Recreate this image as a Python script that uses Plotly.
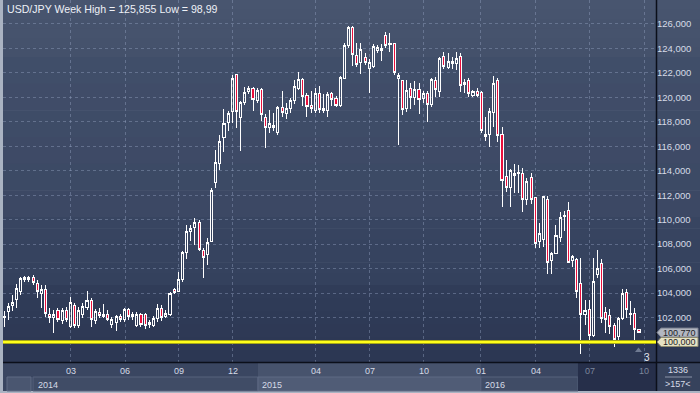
import plotly.graph_objects as go

# ---------------- data ----------------
opens = [102.0, 102.48, 103.0, 103.44, 104.12, 105.08, 105.08, 105.3, 104.81, 103.99,
         104.26, 102.27, 101.99, 102.57, 101.72, 102.57, 101.25, 102.98, 101.31, 102.27,
         102.84, 103.36, 101.72, 102.43, 102.1, 102.27, 101.45, 101.61, 102.07, 101.8,
         102.67, 102.05, 101.39, 102.21, 102.21, 101.45, 101.39, 101.94, 102.7, 102.07,
         102.27, 104.26, 104.12, 105.08, 107.32, 109.04, 109.37, 109.81, 107.48, 107.13,
         108.22, 113.0, 114.56, 116.7, 117.93, 118.88, 121.89, 118.33, 119.62, 120.47,
         120.74, 119.78, 120.66, 118.33, 117.51, 117.57, 117.16, 119.15, 118.69, 119.07,
         119.78, 120.74, 121.47, 120.16, 119.34, 118.96, 120.33, 118.96, 118.96, 120.33,
         119.89, 119.37, 121.53, 124.2, 125.7, 123.39, 122.84, 123.28, 122.38, 122.5,
         123.82, 123.82, 125.09, 124.29, 124.37, 121.55, 121.34, 119.1, 120.74, 120.03,
         120.66, 119.93, 120.3, 119.38, 121.42, 120.47, 123.38, 122.46, 122.73, 122.73,
         123.33, 121.07, 121.42, 120.19, 120.47, 120.38, 116.8, 116.98, 118.78, 121.42,
         117.0, 113.57, 112.62, 113.65, 113.76, 113.74, 111.61, 113.41, 111.8, 108.2,
         108.34, 111.61, 106.7, 107.25, 108.56, 110.25, 110.79, 106.7, 106.76, 104.8,
         102.21, 102.62, 100.57, 105.48, 106.38, 102.43, 102.15, 101.31, 100.43, 101.94,
         104.06, 102.21, 102.29, 101.0]
highs = [102.5, 103.2, 103.85, 104.73, 105.35, 105.41, 105.41, 105.44, 105.08, 104.67,
         104.67, 102.76, 102.62, 102.76, 102.81, 102.84, 103.71, 103.17, 102.89, 103.17,
         104.2, 103.58, 102.67, 102.76, 103.09, 102.62, 102.07, 102.21, 102.27, 102.81,
         102.81, 102.48, 102.43, 102.35, 102.35, 101.8, 102.16, 103.09, 103.03, 102.62,
         104.12, 104.4, 105.76, 107.48, 109.53, 109.59, 110.14, 110.0, 107.68, 108.5,
         112.6, 115.68, 116.89, 119.07, 118.88, 121.83, 121.94, 119.7, 120.84, 120.93,
         120.84, 120.79, 120.74, 118.6, 118.96, 118.74, 119.29, 120.52, 119.5, 119.92,
         121.42, 122.1, 121.61, 120.38, 120.52, 120.79, 120.93, 120.25, 120.47, 120.47,
         120.11, 121.75, 124.48, 125.855, 125.84, 124.48, 124.48, 123.66, 123.12, 124.37,
         124.29, 124.37, 125.37, 125.28, 124.48, 121.97, 121.42, 121.42, 121.15, 121.33,
         121.2, 120.55, 120.48, 121.56, 121.69, 123.33, 123.74, 123.6, 123.33, 123.74,
         123.6, 121.48, 121.56, 120.6, 120.74, 120.52, 118.37, 119.1, 121.75, 121.56,
         117.6, 114.88, 114.12, 114.55, 114.47, 114.2, 113.38, 113.84, 111.88, 109.71,
         111.94, 111.94, 107.38, 109.57, 110.65, 110.74, 111.47, 107.11, 106.84, 106.84,
         103.43, 103.43, 106.84, 107.52, 106.76, 102.84, 102.67, 101.53, 102.07, 104.31,
         104.31, 103.38, 102.76, 101.1]
lows = [101.25, 101.8, 102.5, 102.76, 103.85, 104.94, 104.94, 104.67, 103.58, 102.76,
        102.07, 101.53, 100.71, 101.61, 101.45, 101.61, 101.17, 101.17, 101.17, 101.99,
        102.62, 101.25, 101.45, 101.99, 101.94, 101.72, 101.17, 100.9, 101.66, 101.61,
        101.8, 101.8, 101.25, 101.25, 101.07, 101.17, 101.25, 101.66, 101.72, 101.94,
        102.16, 103.9, 104.07, 104.94, 106.8, 108.22, 107.95, 107.4, 105.22, 106.31,
        108.14, 112.6, 114.1, 115.52, 117.24, 117.87, 117.46, 115.6, 119.37, 120.25,
        118.88, 119.56, 118.06, 115.88, 117.05, 117.24, 116.91, 118.42, 118.2, 118.74,
        119.42, 120.6, 119.29, 118.42, 118.69, 118.74, 118.69, 118.74, 118.42, 119.29,
        119.23, 119.23, 121.47, 124.07, 122.57, 122.5, 121.91, 122.66, 120.38, 122.38,
        123.6, 123.0, 124.01, 123.74, 121.83, 116.1, 118.55, 118.83, 119.07, 119.34,
        118.65, 119.57, 118.0, 119.24, 120.0, 120.06, 122.29, 122.29, 122.29, 122.23,
        120.47, 120.38, 120.0, 120.0, 120.06, 117.06, 116.46, 115.97, 117.6, 116.38,
        111.0, 112.29, 111.06, 112.16, 112.21, 110.65, 111.2, 111.28, 107.66, 107.66,
        107.79, 105.54, 105.54, 107.2, 108.2, 109.1, 106.45, 106.16, 103.57, 98.99,
        101.39, 100.02, 100.43, 105.21, 101.53, 100.71, 100.63, 99.57, 100.02, 101.8,
        101.94, 101.39, 100.02, 100.7]
closes = [102.1, 102.89, 103.2, 104.34, 105.22, 105.27, 105.3, 104.89, 104.12, 104.32,
          102.35, 101.99, 102.27, 101.8, 102.57, 101.8, 103.25, 101.39, 102.57, 102.89,
          103.39, 101.8, 102.48, 102.16, 102.27, 101.88, 101.88, 102.07, 101.8, 102.62,
          102.07, 102.27, 102.21, 101.45, 101.31, 101.61, 101.94, 102.7, 101.99, 102.35,
          103.99, 104.04, 105.14, 107.35, 109.04, 109.32, 109.81, 107.6, 106.94, 108.17,
          112.38, 114.65, 116.37, 117.84, 118.66, 121.56, 118.83, 119.56, 120.38, 120.74,
          119.84, 120.57, 118.6, 117.57, 117.87, 117.7, 119.15, 118.8, 119.07, 119.78,
          120.88, 121.47, 120.11, 119.23, 119.07, 120.33, 119.02, 119.07, 120.25, 119.84,
          119.37, 121.61, 124.2, 125.7, 123.52, 122.7, 123.93, 122.84, 122.84, 124.15,
          124.1, 123.96, 124.2, 124.42, 122.03, 121.75, 119.03, 120.6, 120.03, 120.66,
          119.84, 120.3, 119.38, 121.48, 120.66, 123.2, 122.56, 122.92, 122.92, 123.2,
          121.0, 121.2, 120.33, 120.47, 120.19, 117.27, 117.0, 118.88, 121.15, 116.87,
          113.24, 112.62, 114.06, 113.79, 113.88, 111.61, 113.11, 111.67, 108.07, 108.83,
          111.88, 106.52, 107.2, 108.67, 110.14, 110.38, 106.52, 107.03, 104.11, 102.21,
          102.56, 100.57, 104.93, 106.03, 101.94, 101.86, 101.25, 100.22, 101.94, 103.98,
          102.67, 102.35, 101.04, 100.77]

month_ticks = [16.1, 29.2, 42.1, 55.1, 75.1, 88.1, 101.1, 114.9, 128.1, 141.1, 154.3]
month_labels = ["03", "06", "09", "12", "04", "07", "10", "01", "04", "07", "10"]
year_starts = [7.0, 61.2, 114.9]
year_labels = ["2014", "2015", "2016"]
shade_start = 138.3          # darkened (future) section of the time axis
price_ticks = list(range(102, 127, 2))
price_labels = [f"{v},000" for v in price_ticks]
ref_level = 100.0
ref_label = "100,000"
last_price = 100.77
last_label = "100,770"
title_text = "USD/JPY Week High = 125,855 Low = 98,99"
corner_top = "1336"
corner_bottom = ">157<"
marker_count = "3"

# ---------------- geometry ----------------
W, H = 700, 393
ML, MR, MT, MB = 3, 44, 0, 31
PX0, PX1 = ML, W - MR          # 3 .. 656
PY0, PY1 = MT, H - MB          # 0 .. 362
XR = [-0.24, 157.1]
YR = [98.365, 127.96]
FONT = "Liberation Sans, Arial, sans-serif"


def fx(p):  # pixel x -> paper
    return (p - PX0) / (PX1 - PX0)


def fy(p):  # pixel y -> paper
    return 1 - (p - PY0) / (PY1 - PY0)


def ix(i):  # index -> paper x
    return (i - XR[0]) / (XR[1] - XR[0])


def vy(v):  # value -> pixel y
    return PY0 + (YR[1] - v) / (YR[1] - YR[0]) * (PY1 - PY0)


def mix(c0, c1, t):
    a = [int(c0[k:k + 2], 16) for k in (1, 3, 5)]
    b = [int(c1[k:k + 2], 16) for k in (1, 3, 5)]
    return "#" + "".join(f"{round(a[k] + (b[k] - a[k]) * t):02x}" for k in range(3))


shapes = []


def rect(x0, y0, x1, y1, color, line=None, layer="below"):
    d = dict(type="rect", xref="paper", yref="paper", x0=fx(x0), x1=fx(x1),
             y0=fy(y1), y1=fy(y0), fillcolor=color, layer=layer,
             line=dict(width=0) if line is None else dict(color=line, width=1))
    shapes.append(d)


def seg(x0, y0, x1, y1, color, width=1, layer="above", dash=None):
    ln = dict(color=color, width=width)
    if dash:
        ln["dash"] = dash
    shapes.append(dict(type="line", xref="paper", yref="paper", x0=fx(x0), x1=fx(x1),
                       y0=fy(y0), y1=fy(y1), line=ln, layer=layer))


def path(pts, color, line_color=None, layer="above"):
    s = "M " + " L ".join(f"{fx(x):.5f},{fy(y):.5f}" for x, y in pts) + " Z"
    shapes.append(dict(type="path", xref="paper", yref="paper", path=s, fillcolor=color,
                       line=dict(width=0) if line_color is None else dict(color=line_color, width=1),
                       layer=layer))


# background bands (plot + right axis panel)
bands = [(0, 57, "#48556f", "#44516b"), (57, 217, "#414e69", "#3b4864"),
         (217, 285, "#384561", "#34415d"), (285, 363, "#303c58", "#2c3753")]
for y0, y1, c0, c1 in bands:
    n = 6
    for k in range(n):
        a = y0 + (y1 - y0) * k / n
        b = y0 + (y1 - y0) * (k + 1) / n
        rect(PX0, a, W, b + 0.5, mix(c0, c1, (k + 0.5) / n))

# bottom time-axis panel
rect(PX0, 363, PX1, 391, "#3a4661")
xs15 = PX0 + ix(year_starts[1]) * (PX1 - PX0)
xs16 = PX0 + ix(year_starts[2]) * (PX1 - PX0)
xs14 = PX0 + ix(year_starts[0]) * (PX1 - PX0)
xsh = PX0 + ix(shade_start) * (PX1 - PX0)
rect(xs15, 363, xs16, 391, "#47536d")
rect(xs14, 377, xs15, 391, "#404c66", line="#56627c")
rect(xs15, 377, xs16, 391, "#505c76", line="#5e6a84")
rect(xs16, 377, xsh, 391, "#404c66", line="#56627c")
rect(xsh, 363, PX1, 391, "#262f4a")
rect(7, 377, 31, 391, "#4a5670", line="#5e6a84")
rect(PX1, 363, W, 391, "#36425c")

# frame lines
seg(PX1 + 0.5, 0, PX1 + 0.5, 391, "#0b0f1a", 1.5)
seg(PX0, 362.5, W, 362.5, "#0b0f1a", 1.5)
seg(665, 377, 692, 377, "#8a93a8", 1)

# reference (yellow) line
ry = vy(ref_level)
seg(PX0, ry, PX1, ry, "#a8a818", 4)
seg(PX0, ry, PX1, ry, "#ffff1a", 2)

# price label boxes on the right axis
ly = vy(last_price)
path([(PX1 + 1, ly), (661, ly - 4.5), (698, ly - 4.5), (698, ly + 4.5), (661, ly + 4.5)],
     "#b3b7c1", "#7c8192")
path([(PX1 + 1, ry), (661, ry - 4.5), (698, ry - 4.5), (698, ry + 4.5), (661, ry + 4.5)],
     "#e6e2c4", "#8f8c70")

# small marker triangle near the bottom right
path([(635, 352), (638.5, 347.5), (642, 352)], "#6f7a92")

annotations = []


def txt(x, y, s, size=9, color="#d6dbe7", xanchor="center"):
    annotations.append(dict(x=fx(x), y=fy(y), xref="paper", yref="paper", text=s,
                            showarrow=False, xanchor=xanchor, yanchor="middle",
                            font=dict(family=FONT, size=size, color=color)))


txt(5, 8.5, title_text, size=10.6, color="#eef1f7", xanchor="left")
for pos, lab in zip(month_ticks, month_labels):
    xp = PX0 + ix(pos) * (PX1 - PX0)
    col = "#7d879c" if pos > shade_start else "#d6dbe7"
    txt(xp, 370.5, lab, color=col)
for pos, lab in zip(year_starts, year_labels):
    xp = PX0 + ix(pos) * (PX1 - PX0)
    txt(xp + 2.5, 384.5, lab, color="#d6dbe7", xanchor="left")
txt(678, 370, corner_top, color="#d6dbe7")
txt(678, 384, corner_bottom, color="#d6dbe7")
txt(647, 357, marker_count, size=10, color="#e6e9f0")
txt(679.5, ly + 0.3, last_label, size=9, color="#1c1f28")
txt(679.5, ry + 0.3, ref_label, size=9, color="#1c1f28")

fig = go.Figure(go.Candlestick(
    x=list(range(len(opens))), open=opens, high=highs, low=lows, close=closes,
    increasing=dict(line=dict(color="#ffffff", width=1), fillcolor="rgba(0,0,0,0)"),
    decreasing=dict(line=dict(color="#ffffff", width=1), fillcolor="#ea0f3c"),
    whiskerwidth=0, hoverinfo="skip", showlegend=False))

grid = "rgba(150,165,195,0.42)"
fig.update_layout(
    width=W, height=H, margin=dict(l=ML, r=MR, t=MT, b=MB),
    paper_bgcolor="#aab3c2", plot_bgcolor="rgba(0,0,0,0)",
    boxgap=0.28,
    shapes=shapes, annotations=annotations, showlegend=False,
    xaxis=dict(range=XR, tickvals=month_ticks, showticklabels=False, showgrid=True,
               gridcolor=grid, griddash="3px,3px", gridwidth=1, zeroline=False,
               showline=False, ticks="", rangeslider=dict(visible=False), fixedrange=True),
    yaxis=dict(range=YR, side="right", tickvals=price_ticks, ticktext=price_labels,
               showgrid=True, gridcolor=grid, griddash="3px,3px", gridwidth=1,
               zeroline=False, showline=False, ticks="", fixedrange=True,
               tickfont=dict(family=FONT, size=9.5, color="#d6dbe7")),
)
fig.write_html(
    "out.html", config={"displayModeBar": False},
    post_script=("document.body.style.margin='0';document.body.style.overflow='hidden';"
                 "document.querySelectorAll('.boxlayer path').forEach(function(p){"
                 "p.style.shapeRendering='crispEdges';});"))
